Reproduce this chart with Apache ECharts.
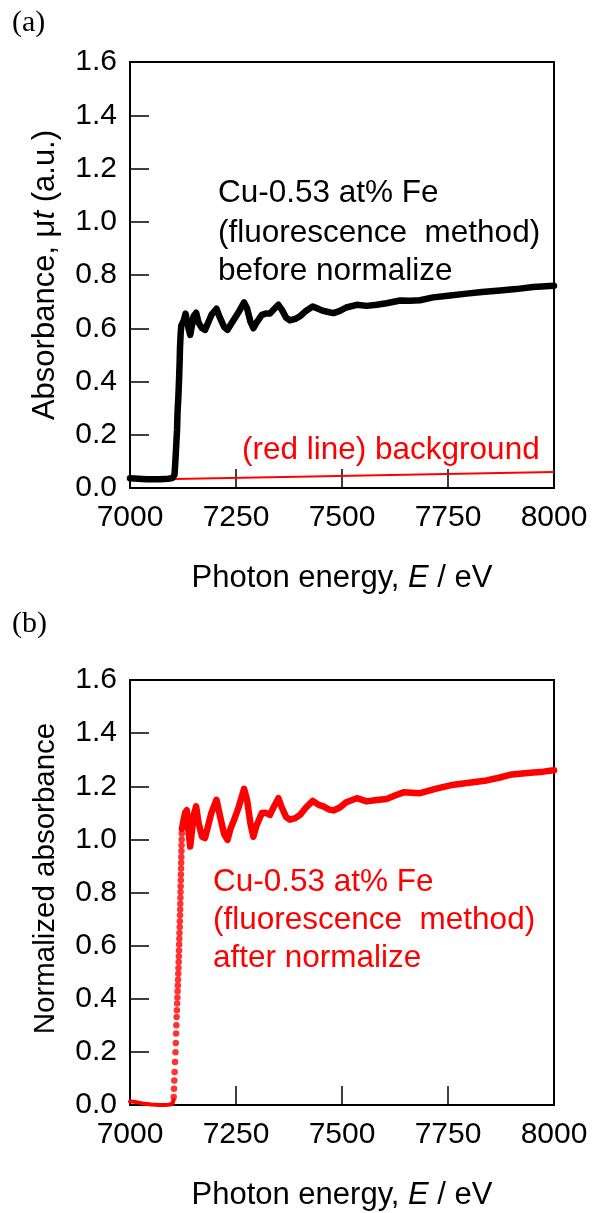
<!DOCTYPE html>
<html><head><meta charset="utf-8">
<script src="https://cdn.jsdelivr.net/npm/echarts@6/dist/echarts.min.js"></script>
<style>html,body{margin:0;padding:0;background:#fff}#c{width:592px;height:1213px}</style>
</head><body><div id="c"></div>
<script>
// ---- data ----
const xTicks = [7000, 7250, 7500, 7750, 8000];
const yTicks = [0, 0.2, 0.4, 0.6, 0.8, 1.0, 1.2, 1.4, 1.6];

// (a) raw absorbance (fluorescence), before normalization
const rawCurve = [
  [7000,0.037],[7010,0.036],[7020,0.035],[7030,0.034],[7040,0.033],[7050,0.033],[7060,0.033],
  [7070,0.033],[7080,0.034],[7090,0.035],[7100,0.037],[7104,0.040],
  [7105,0.05],[7107,0.10],[7109,0.16],[7111,0.22],[7112,0.28],[7114,0.34],[7115.5,0.40],
  [7117,0.47],[7118,0.53],[7119.5,0.58],[7121,0.61],[7124,0.615],
  [7127,0.63],[7131,0.655],[7134,0.65],[7138,0.60],[7142,0.575],[7146,0.61],[7150,0.645],
  [7156,0.658],[7162,0.62],[7170,0.60],[7177,0.594],[7184,0.62],[7192,0.65],[7204,0.673],
  [7212,0.64],[7222,0.605],[7230,0.594],[7238,0.615],[7244,0.63],[7256,0.66],[7269,0.697],
  [7276,0.675],[7284,0.625],[7291,0.60],[7298,0.62],[7311,0.65],[7320,0.655],[7330,0.655],
  [7340,0.672],[7350,0.688],[7358,0.67],[7368,0.64],[7377,0.63],[7390,0.635],[7401,0.645],
  [7415,0.665],[7431,0.682],[7445,0.672],[7456,0.665],[7470,0.66],[7480,0.657],[7495,0.665],
  [7510,0.678],[7535,0.688],[7558,0.684],[7582,0.688],[7605,0.694],[7637,0.704],[7660,0.703],
  [7684,0.705],[7715,0.716],[7750,0.722],[7794,0.73],[7830,0.736],[7873,0.742],[7910,0.747],
  [7951,0.755],[8000,0.76]
];
// (a) background line (red)
const bgLine = [[7106,0.034],[8000,0.060]];

// (b) normalized absorbance
const normPre = [
  [7000,0.013],[7010,0.012],[7020,0.009],[7030,0.006],[7040,0.004],[7050,0.002],[7060,0.001],
  [7070,0.0],[7080,0.0],[7090,0.001],[7100,0.004],[7103,0.02]
];
const normEdgeDots = [
  [7103.0,0.030],[7103.8,0.061],[7104.5,0.092],[7105.3,0.124],[7106.3,0.162],[7107.3,0.199],
  [7108.0,0.233],[7108.7,0.269],[7109.3,0.300],[7110.0,0.331],[7110.6,0.357],[7111.2,0.382],
  [7111.8,0.405],[7112.3,0.428],[7112.8,0.450],[7113.3,0.472],[7113.8,0.494],[7114.3,0.516],
  [7114.8,0.538],[7115.2,0.560],[7115.6,0.582],[7116.0,0.604],[7116.4,0.626],[7116.8,0.648],
  [7117.2,0.670],[7117.6,0.692],[7118.0,0.714],[7118.3,0.736],[7118.6,0.758],[7118.9,0.780],
  [7119.2,0.802],[7119.5,0.824],[7119.8,0.846],[7120.1,0.868],[7120.4,0.890],[7120.7,0.912],
  [7121.0,0.934],[7121.3,0.956],[7121.6,0.978],[7121.9,1.000],[7122.2,1.022]
];
const normPost = [
  [7122.5,1.04],[7126,1.07],[7130,1.10],[7134,1.11],[7138,1.03],[7142,0.973],[7146,1.03],
  [7150,1.09],[7156,1.124],[7162,1.06],[7170,1.01],[7177,1.005],[7184,1.05],[7192,1.10],
  [7204,1.149],[7212,1.09],[7222,1.02],[7230,0.998],[7237,1.04],[7244,1.067],[7256,1.12],
  [7269,1.19],[7276,1.15],[7284,1.06],[7291,1.01],[7298,1.05],[7311,1.099],[7320,1.10],
  [7330,1.092],[7340,1.125],[7350,1.155],[7358,1.12],[7368,1.085],[7377,1.074],[7390,1.08],
  [7401,1.092],[7415,1.12],[7431,1.145],[7445,1.13],[7456,1.124],[7470,1.112],[7480,1.109],
  [7495,1.12],[7510,1.14],[7535,1.155],[7558,1.143],[7582,1.148],[7605,1.152],[7625,1.165],
  [7645,1.177],[7684,1.174],[7720,1.19],[7763,1.206],[7800,1.213],[7841,1.222],[7870,1.232],
  [7896,1.243],[7925,1.248],[7951,1.252],[7975,1.255],[8000,1.26]
];

// ---- chart ----
const FONT = '"Liberation Sans", Arial, sans-serif';
const SERIF = '"Liberation Serif", "Times New Roman", serif';
const FS = 30;   // tick labels
const TS = 31;   // axis titles
const AS = 31.5; // annotations
const chart = echarts.init(document.getElementById('c'), null, {renderer: 'canvas'});

function xAxis(gi) {
  return {
    type: 'value', gridIndex: gi,
    min: xTicks[0], max: xTicks[xTicks.length - 1], interval: xTicks[1] - xTicks[0],
    axisLine: {show: true, onZero: false, lineStyle: {color: '#000', width: 2}},
    axisTick: {show: true, inside: true, length: 19, lineStyle: {color: '#000', width: 1.5}},
    axisLabel: {color: '#000', fontSize: FS, fontFamily: FONT, margin: 15,
      formatter: v => String(v)},
    splitLine: {show: false},
    name: 'Photon energy, {i|E} / eV', nameLocation: 'middle', nameGap: 75,
    nameTextStyle: {color: '#000', fontSize: TS, fontFamily: FONT,
      rich: {i: {fontStyle: 'italic', fontSize: TS, fontFamily: FONT, color: '#000'}}}
  };
}
function yAxis(gi, name, fs, pad) {
  return {
    type: 'value', gridIndex: gi,
    min: yTicks[0], max: yTicks[yTicks.length - 1], interval: yTicks[1] - yTicks[0],
    axisLine: {show: true, onZero: false, lineStyle: {color: '#000', width: 2}},
    axisTick: {show: true, inside: true, length: 19, lineStyle: {color: '#000', width: 1.5}},
    axisLabel: {color: '#000', fontSize: FS, fontFamily: FONT, margin: 13,
      formatter: v => v.toFixed(1)},
    splitLine: {show: false},
    name: name, nameLocation: 'middle', nameGap: 69,
    nameTextStyle: {color: '#000', fontSize: fs, fontFamily: FONT, padding: pad,
      rich: {i: {fontStyle: 'italic', fontSize: fs, fontFamily: FONT, color: '#000'}}}
  };
}

function txt(x, y, s, color, font) {
  return {type: 'text', x: x, y: y, silent: true, z: 10,
    style: {text: s, fill: color, font: font || (AS + 'px ' + FONT), verticalAlign: 'middle', align: 'left'}};
}

chart.setOption({
  animation: false,
  backgroundColor: '#fff',
  grid: [
    {left: 130, top: 62, width: 424, height: 426, show: true, borderColor: '#000', borderWidth: 2, backgroundColor: 'transparent'},
    {left: 130, top: 680, width: 424, height: 425, show: true, borderColor: '#000', borderWidth: 2, backgroundColor: 'transparent'}
  ],
  xAxis: [xAxis(0), xAxis(1)],
  yAxis: [yAxis(0, 'Absorbance, μ{i|t} (a.u.)', TS, 0),
          yAxis(1, 'Normalized absorbance', 29.5, [0, 0, 0, 28])],
  series: [
    {type: 'line', xAxisIndex: 0, yAxisIndex: 0, data: bgLine, showSymbol: false,
      lineStyle: {color: '#ff0000', width: 2}, z: 2},
    {type: 'line', xAxisIndex: 0, yAxisIndex: 0, data: rawCurve, showSymbol: false,
      lineStyle: {color: '#000', width: 6.5, cap: 'round', join: 'round'}, z: 3},
    {type: 'line', xAxisIndex: 1, yAxisIndex: 1, data: normPre, showSymbol: false,
      lineStyle: {color: '#ff0000', width: 4, cap: 'round', join: 'round'}, z: 3},
    {type: 'scatter', xAxisIndex: 1, yAxisIndex: 1, data: normEdgeDots, symbol: 'circle',
      symbolSize: 6.5, itemStyle: {color: '#ff0000'}, z: 3},
    {type: 'line', xAxisIndex: 1, yAxisIndex: 1, data: normPost, showSymbol: false,
      lineStyle: {color: '#ff0000', width: 6.5, cap: 'round', join: 'round'}, z: 3}
  ],
  graphic: [
    txt(12, 23, '(a)', '#000', '30px ' + SERIF),
    txt(12, 624, '(b)', '#000', '30px ' + SERIF),
    txt(218, 193, 'Cu-0.53 at% Fe', '#000'),
    txt(218, 233, '(fluorescence  method)', '#000'),
    txt(218, 271, 'before normalize', '#000'),
    txt(242, 450, '(red line) background', '#ff0000'),
    txt(213, 882, 'Cu-0.53 at% Fe', '#ff0000'),
    txt(213, 920, '(fluorescence  method)', '#ff0000'),
    txt(213, 958, 'after normalize', '#ff0000')
  ]
});
</script></body></html>
